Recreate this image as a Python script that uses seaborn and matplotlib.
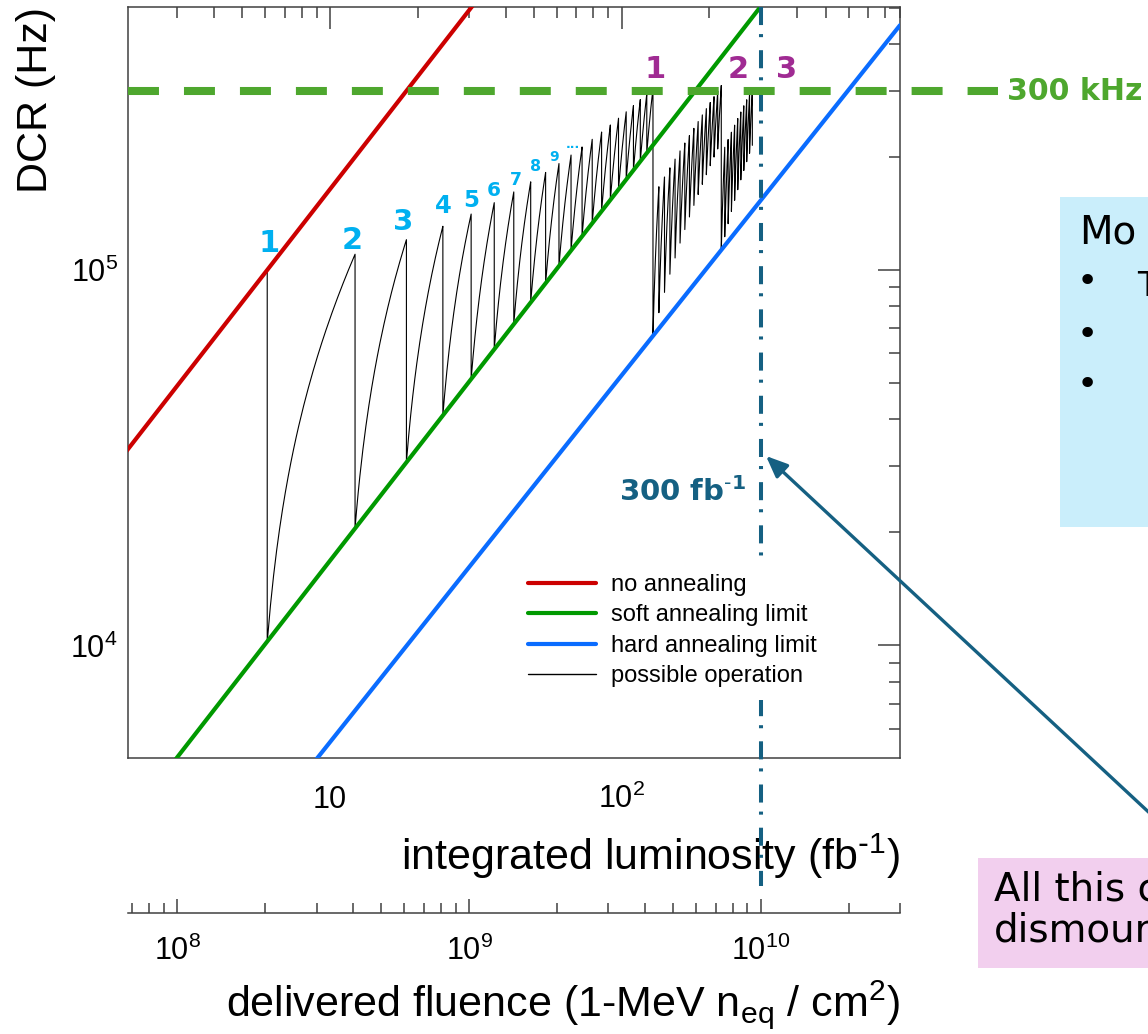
import numpy as np
import pandas as pd
import matplotlib
matplotlib.use("Agg")
import matplotlib.pyplot as plt
import matplotlib.ticker as mticker
import matplotlib.transforms as mtransforms
from matplotlib.lines import Line2D
from matplotlib.patches import Rectangle
import seaborn as sns

# ---------------------------------------------------------------- data
# limit models: DCR (Hz) at the two ends of the luminosity range (fb^-1)
limit_lumi = [2.0, 900.0]
no_annealing_dcr = [3.28e4, 1.476e7]
soft_limit_dcr = [3.36e3, 1.512e6]
hard_limit_dcr = [1.145e3, 4.49e5]

# annealing events of the possible-operation scenario:
# luminosity of each annealing, DCR just before and just after it (kHz)
anneal_lumi = [
    6.1, 12.2, 18.3, 24.4, 30.5, 36.6, 42.7, 48.8, 54.9, 61.0, 67.1,
    73.2, 79.3, 85.4, 91.5, 97.6, 103.7, 109.8, 115.9, 122.0, 128.1,
    134.2, 140.3, 146.4, 152.5, 158.6, 164.7, 170.8, 176.9, 183.0, 189.1,
    195.2, 201.3, 207.4, 213.5, 219.6,
    225.7, 231.8, 237.9, 244.0, 250.1, 256.2, 262.3, 268.4, 274.5, 280.6,
]
dcr_before_khz = [
    100.0, 110.2, 120.5, 130.8, 141.0, 151.2, 161.5, 171.8, 182.0, 192.2, 202.5,
    212.8, 223.0, 233.2, 243.5, 253.8, 264.0, 274.2, 284.5, 294.8, 305.0,
    166.7, 177.0, 187.2, 197.5, 207.7, 218.0, 228.2, 238.5, 248.7, 259.0,
    269.2, 279.5, 289.7, 300.0, 310.2,
    212.4, 222.7, 232.9, 243.2, 253.4, 263.7, 273.9, 284.2, 294.4, 304.7,
]
dcr_after_khz = [
    10.2, 20.5, 30.8, 41.0, 51.2, 61.5, 71.8, 82.0, 92.2, 102.5, 112.8,
    123.0, 133.2, 143.5, 153.8, 164.0, 174.2, 184.5, 194.8, 205.0, 66.7,
    77.0, 87.2, 97.5, 107.7, 118.0, 128.2, 138.5, 148.7, 159.0, 169.2,
    179.5, 189.7, 200.0, 210.2, 112.4,
    122.7, 132.9, 143.2, 153.4, 163.7, 173.9, 184.2, 194.4, 204.7, 214.9,
]

dcr_threshold_hz = 3.0e5
target_lumi = 300.0
fluence_per_fb = 1.0e10 / 300.0  # 1-MeV n_eq / cm^2 per fb^-1

cycle_labels = ["1", "2", "3", "4", "5", "6", "7", "8", "9", "..."]
hard_cycle_labels = ["1", "2", "3"]
legend_labels = ["no annealing", "soft annealing limit",
                 "hard annealing limit", "possible operation"]

# ---------------------------------------------------------------- style
RED, GREEN, BLUE = "#cc0000", "#009900", "#0a6cff"
THRESH_GREEN = "#4ea72e"
TEAL = "#156082"
CYAN = "#00b0f0"
PURPLE = "#a02b93"
AXIS_GREY = "#404040"

W, H, DPI = 1148, 1034, 100


def fig_xy(px, py):
    """pixel position (from top-left) -> figure fraction"""
    return px / W, 1 - py / H


sns.set_style("white")
plt.rcParams.update({
    "font.family": ["Liberation Sans", "DejaVu Sans"],
    "mathtext.default": "regular",
    "lines.scale_dashes": False,
    "text.color": "black",
    "axes.labelcolor": "black",
    "axes.linewidth": 1.1,
    "axes.edgecolor": AXIS_GREY,
    "xtick.color": AXIS_GREY,
    "ytick.color": AXIS_GREY,
    "xtick.labelcolor": "black",
    "ytick.labelcolor": "black",
})

fig = plt.figure(figsize=(W / DPI, H / DPI), dpi=DPI)
ax = fig.add_axes([127.5 / W, 1 - 757.5 / H, 772.5 / W, 750.8 / H])
ax.set_xscale("log")
ax.set_yscale("log")
ax.set_xlim(2.025, 900)
ax.set_ylim(5.03e3, 5.03e5)


# ---------------------------------------------------------------- operation
def operation_path(lumi, before_khz, after_khz, steps=40):
    """Sawtooth: linear DCR growth between annealings, vertical drops at them."""
    before = np.asarray(before_khz) * 1e3
    after = np.asarray(after_khz) * 1e3
    xs, ys = [lumi[0], lumi[0]], [before[0], after[0]]
    for i in range(1, len(lumi)):
        l0, d0 = lumi[i - 1], after[i - 1]
        seg = np.linspace(l0, lumi[i], steps)[1:]
        xs.extend(seg)
        ys.extend(d0 + (before[i] - d0) * (seg - l0) / (lumi[i] - l0))
        xs.append(lumi[i])
        ys.append(after[i])
    return np.array(xs), np.array(ys)


op_x, op_y = operation_path(anneal_lumi, dcr_before_khz, dcr_after_khz)
operation = pd.DataFrame({"lumi": op_x, "dcr": op_y})
sns.lineplot(data=operation, x="lumi", y="dcr", estimator=None, sort=False,
             color="black", lw=0.8, ax=ax, legend=False, zorder=2)

limits = pd.DataFrame({
    "lumi": limit_lumi * 3,
    "dcr": no_annealing_dcr + soft_limit_dcr + hard_limit_dcr,
    "model": [legend_labels[0]] * 2 + [legend_labels[1]] * 2 + [legend_labels[2]] * 2,
})
sns.lineplot(data=limits, x="lumi", y="dcr", hue="model", estimator=None,
             palette={legend_labels[0]: RED, legend_labels[1]: GREEN,
                      legend_labels[2]: BLUE},
             lw=3.0, ax=ax, legend=False, zorder=3)

# 300 kHz threshold, running past the frame towards its label
tr_h = mtransforms.blended_transform_factory(ax.transAxes, ax.transData)
ax.plot([0, 1.127], [dcr_threshold_hz] * 2, transform=tr_h, clip_on=False,
        color=THRESH_GREEN, lw=5.8, dashes=(22.3, 18.0),
        dash_capstyle="butt", zorder=5)

# 300 fb^-1 marker, running down through the luminosity title
tr_v = mtransforms.blended_transform_factory(ax.transData, ax.transAxes)
ax.plot([target_lumi] * 2, [1.0, -0.171], transform=tr_v, clip_on=False,
        color=TEAL, lw=2.9, dashes=(13.0, 6.5, 2.2, 9.4),
        dash_capstyle="butt", zorder=3)

# ---------------------------------------------------------------- axes
ax.xaxis.set_major_locator(mticker.FixedLocator([10, 100]))
ax.xaxis.set_major_formatter(mticker.FixedFormatter(["10", "$10^{2}$"]))
ax.xaxis.set_minor_locator(mticker.LogLocator(base=10, subs=np.arange(2, 10)))
ax.xaxis.set_minor_formatter(mticker.NullFormatter())
ax.yaxis.set_major_locator(mticker.FixedLocator([1e4, 1e5]))
ax.yaxis.set_major_formatter(mticker.FixedFormatter(["$10^{4}$", "$10^{5}$"]))
ax.yaxis.set_minor_locator(mticker.LogLocator(base=10, subs=np.arange(2, 10)))
ax.yaxis.set_minor_formatter(mticker.NullFormatter())
ax.tick_params(which="both", direction="in", top=True, right=True, width=1.1)
ax.tick_params(which="major", length=15.8)
ax.tick_params(which="minor", length=8)
ax.tick_params(axis="x", which="major", labelsize=22, pad=36)
ax.tick_params(axis="y", which="major", labelsize=22, pad=7)
for tick in ax.xaxis.get_major_ticks():
    tick.label1.set_verticalalignment("baseline")

ax.set_xlabel("integrated luminosity (fb$^{\\text{-}1}$)", loc="right",
              fontsize=31, labelpad=12)
ax.set_ylabel("DCR (Hz)", loc="top", fontsize=31, labelpad=10)

sec = ax.secondary_xaxis(-0.2071, functions=(lambda L: L * fluence_per_fb,
                                             lambda F: F / fluence_per_fb))
sec.xaxis.set_major_locator(mticker.FixedLocator([1e8, 1e9, 1e10]))
sec.xaxis.set_major_formatter(
    mticker.FixedFormatter(["$10^{8}$", "$10^{9}$", "$10^{10}$"]))
sec.xaxis.set_minor_locator(mticker.FixedLocator(
    [m * 10.0 ** e for e in (7, 8, 9, 10) for m in range(2, 10)
     if 6.75e7 <= m * 10.0 ** e <= 3.0e10]))
sec.xaxis.set_minor_formatter(mticker.NullFormatter())
sec.tick_params(which="both", direction="in", width=1.1, color=AXIS_GREY,
                labelcolor="black")
sec.tick_params(which="major", length=10, labelsize=22, pad=16)
sec.tick_params(which="minor", length=7)
sec.spines["bottom"].set_linewidth(1.1)
sec.spines["bottom"].set_color(AXIS_GREY)
sec.set_xlabel("delivered fluence (1-MeV n$_{eq}$ / cm$^{2}$)", loc="right",
               fontsize=31, labelpad=8)

# ---------------------------------------------------------------- legend
handles = [Line2D([], [], color=RED, lw=3.0), Line2D([], [], color=GREEN, lw=3.0),
           Line2D([], [], color=BLUE, lw=3.0), Line2D([], [], color="black", lw=1.0)]
leg = ax.legend(handles, legend_labels, loc="upper left",
                bbox_to_anchor=fig_xy(515, 561), bbox_transform=fig.transFigure,
                fontsize=17, handlelength=2.9, handletextpad=0.62,
                labelspacing=0.36, borderpad=0.55, borderaxespad=0,
                frameon=True, fancybox=False)
leg.get_frame().set_facecolor("white")
leg.get_frame().set_edgecolor("none")
leg.get_frame().set_alpha(1)
leg.set_zorder(6)

# ---------------------------------------------------------------- annotations
ann_font = "DejaVu Sans"
cycle_sizes = [22, 22, 21, 17.5, 16.5, 14.5, 12.5, 11.5, 10, 9]
cycle_offsets = [(2, 27), (-3, 14), (-3, 18), (0, 20), (0, 14),
                 (0, 12), (2, 12), (5, 15), (8, 15), (14, 19)]
for i, (lab, fs, off) in enumerate(zip(cycle_labels, cycle_sizes, cycle_offsets)):
    ax.annotate(lab, xy=(anneal_lumi[i], dcr_before_khz[i] * 1e3),
                xytext=off, textcoords="offset pixels", ha="center",
                va="center", fontsize=fs, fontweight="bold", color=CYAN,
                family=ann_font, zorder=6, annotation_clip=False)

for lab, px in zip(hard_cycle_labels, [655, 738, 787]):
    fig.text(*fig_xy(px, 70), lab, ha="center", va="center", fontsize=22,
             fontweight="bold", color=PURPLE, family=ann_font)

fig.text(*fig_xy(1007, 91), "300 kHz", ha="left", va="center", fontsize=21.6,
         fontweight="bold", color=THRESH_GREEN, family=ann_font)
fig.text(*fig_xy(619, 492), "300 fb$^{\\text{-}1}$", ha="left", va="center",
         fontsize=21, fontweight="bold", color=TEAL, family=ann_font)

ax.annotate("", xy=fig_xy(766, 456), xycoords="figure fraction",
            xytext=fig_xy(1170, 832), textcoords="figure fraction",
            arrowprops=dict(arrowstyle="-|>,head_length=1.3,head_width=0.55",
                            color=TEAL, lw=2.4, shrinkA=0, shrinkB=0),
            annotation_clip=False)

# side notes
fig.patches.append(Rectangle(fig_xy(1060, 527), 95 / W, 330 / H,
                             transform=fig.transFigure, facecolor="#caeefb",
                             edgecolor="none", zorder=0))
fig.patches.append(Rectangle(fig_xy(978, 968), 180 / W, 110 / H,
                             transform=fig.transFigure, facecolor="#f2cfee",
                             edgecolor="none", zorder=0))
fig.text(*fig_xy(1079, 232), "Mo", ha="left", va="center", fontsize=28,
         color="black", family=ann_font)
for py in [282, 335, 385]:
    fig.text(*fig_xy(1087, py), "\u2022", ha="center", va="center",
             fontsize=26, color="black", family=ann_font)
fig.text(*fig_xy(1137, 287), "T", ha="left", va="center", fontsize=24,
         color="black", family=ann_font)
fig.text(*fig_xy(994, 910), "All this c\ndismour", ha="left", va="center",
         fontsize=28, linespacing=1.08, color="black", family=ann_font)

fig.savefig("out.png", dpi=DPI)
